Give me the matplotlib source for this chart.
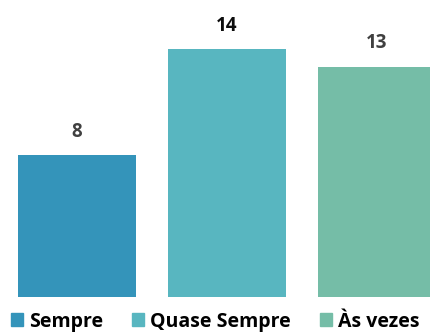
import matplotlib.pyplot as plt
from matplotlib.patches import Patch

categories = ['Sempre', 'Quase Sempre', 'Às vezes']
values = [8, 14, 13]
colors = ['#3494BA', '#58B6C0', '#75BDA7']
label_colors = ['#404040', '#0D0D0D', '#404040']

plt.rcParams['font.family'] = ['Open Sans', 'DejaVu Sans']

fig = plt.figure(figsize=(4.3, 3.34), dpi=100)
ax = fig.add_axes([0, 37 / 334, 1, 297 / 334])

x = range(len(values))
ax.bar(x, values, width=118 / 150, color=colors)
for xi, v, c in zip(x, values, label_colors):
    ax.text(xi, v + 0.75, str(v), ha='center', va='bottom', fontsize=13.5,
            fontweight='bold', color=c)

ax.set_xlim(-77 / 150, 353 / 150)
ax.set_ylim(0, 297 / 17.72)
ax.axis('off')

handles = [Patch(color=c, label=l) for c, l in zip(colors, categories)]
fig.legend(handles=handles, loc='lower center', bbox_to_anchor=(0.5, -0.045), ncol=3,
           frameon=False, prop={'weight': 'bold', 'size': 14},
           handlelength=0.62, handleheight=0.62, handletextpad=0.3, columnspacing=1.5)

fig.savefig('out.png', dpi=100)
